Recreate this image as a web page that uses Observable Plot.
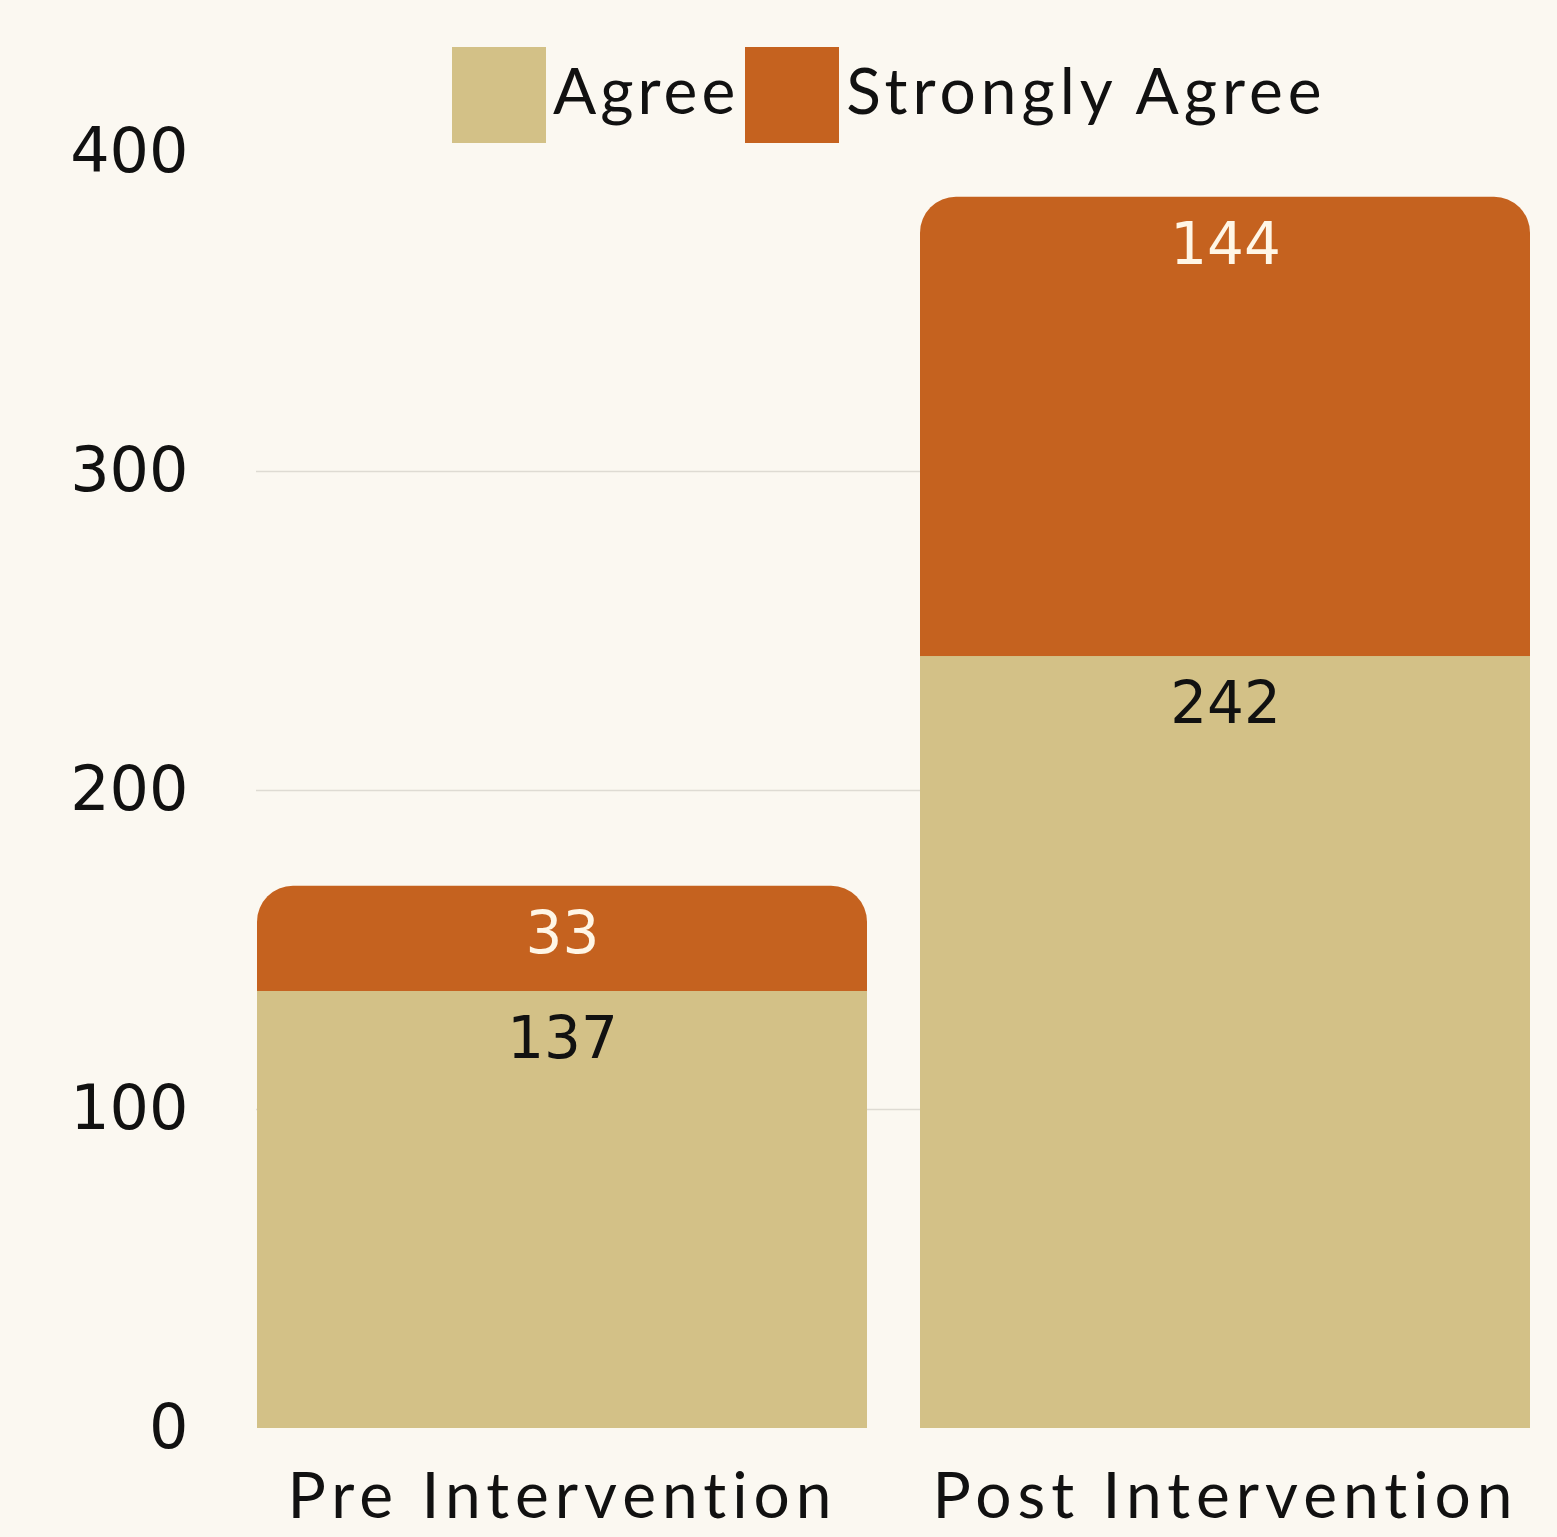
<!DOCTYPE html>
<html>
<head>
<meta charset="utf-8">
<script src="https://cdn.jsdelivr.net/npm/d3@7"></script>
<script src="https://cdn.jsdelivr.net/npm/@observablehq/plot@0.6"></script>
<style>
  html, body { margin: 0; padding: 0; background: #fbf8f1; }
  #wrap { position: relative; width: 1557px; height: 1537px; }
  #legend { position: absolute; top: 47px; left: 452px; display: flex; align-items: center; height: 96px;
            font-family: Lato, "Open Sans", sans-serif; font-size: 64px; color: #111; }
  #legend .sw { width: 94px; height: 96px; margin-right: 7px; }
  #legend .lab { margin-right: 6px; line-height: 86px; align-self: flex-start; letter-spacing: 4px; }
  #legend .lab.last { letter-spacing: 5px; }
  #chart svg g[aria-label="x-axis tick label"] text { letter-spacing: 6px; }
</style>
</head>
<body>
<div id="wrap">
  <div id="chart"></div>
  <div id="legend"></div>
</div>
<script>
const categories = ["Pre Intervention", "Post Intervention"];
const agree = [137, 242];
const stronglyAgree = [33, 144];
const seriesNames = ["Agree", "Strongly Agree"];
const seriesColors = ["#d3c187", "#c5621f"];
const yTicks = [0, 100, 200, 300, 400];
const gridTicks = [100, 200, 300];

const data = categories.map((c, i) => ({
  cat: c, agree: agree[i], strong: stronglyAgree[i], total: agree[i] + stronglyAgree[i]
}));

const chart = Plot.plot({
  width: 1557,
  height: 1537,
  marginTop: 152,
  marginBottom: 109,
  marginLeft: 256,
  marginRight: 27,
  style: { background: "#fbf8f1", fontFamily: "DejaVu Sans, sans-serif", color: "#111" },
  x: { domain: categories, paddingInner: 0.08, paddingOuter: 0, label: null },
  y: { domain: [0, 400], label: null },
  marks: [
    Plot.gridY(gridTicks, { stroke: "#dedbd3", strokeOpacity: 1, strokeWidth: 1.5 }),
    Plot.barY(data, { x: "cat", y1: 0, y2: "total", fill: seriesColors[1], rx: 36 }),
    Plot.barY(data, { x: "cat", y1: 0, y2: "agree", fill: seriesColors[0] }),
    Plot.text(data, { x: "cat", y: "total", text: d => String(d.strong), dy: 48, fill: "#fff6e6",
                      fontSize: 58, fontFamily: "DejaVu Sans, sans-serif" }),
    Plot.text(data, { x: "cat", y: "agree", text: d => String(d.agree), dy: 48, fill: "#111",
                      fontSize: 58, fontFamily: "DejaVu Sans, sans-serif" }),
    Plot.axisY({ ticks: yTicks, tickSize: 0, tickPadding: 68, fontSize: 62, label: null,
                 fontFamily: "DejaVu Sans, sans-serif", fill: "#111" }),
    Plot.axisX({ tickSize: 0, tickPadding: 44, fontSize: 64, label: null,
                 fontFamily: "Lato, sans-serif", fill: "#111" })
  ]
});
document.getElementById("chart").appendChild(chart);

const legend = document.getElementById("legend");
seriesNames.forEach((name, i) => {
  const sw = document.createElement("div");
  sw.className = "sw";
  sw.style.background = seriesColors[i];
  const lab = document.createElement("div");
  lab.className = "lab" + (i === seriesNames.length - 1 ? " last" : "");
  lab.textContent = name;
  legend.appendChild(sw);
  legend.appendChild(lab);
});
</script>
</body>
</html>
